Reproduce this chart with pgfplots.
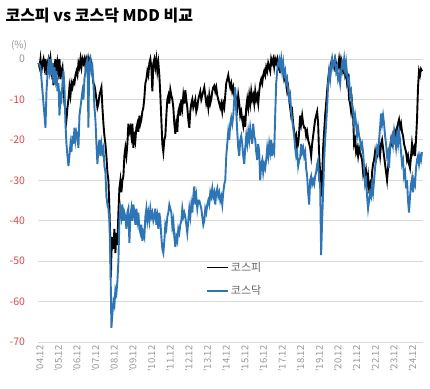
\documentclass[border=0pt]{standalone}
\usepackage{fontspec}
\setmainfont{Noto Sans CJK KR}
\usepackage{pgfplots}
\pgfplotsset{compat=1.18}
\definecolor{kosdaq}{RGB}{46,117,182}
\definecolor{gridc}{RGB}{217,217,217}
\definecolor{tickred}{RGB}{222,72,72}
\definecolor{tickgray}{RGB}{150,150,150}
\definecolor{leggray}{RGB}{100,100,100}
\begin{document}
\begin{tikzpicture}[x=1pt,y=1pt]
\begin{axis}[
  at={(37.5pt,46pt)}, anchor=south west, scale only axis,
  width=385.5pt, height=283pt,
  xmin=37, xmax=423, ymin=-70, ymax=0,
  clip=false,
  axis line style={draw=none},
  major tick length=0pt,
  ymajorgrids, grid style={gridc, line width=0.8pt},
  ytick={-70,-60,-50,-40,-30,-20,-10,0},
  yticklabels={{\color{tickred}-70},{\color{tickred}-60},{\color{tickred}-50},{\color{tickred}-40},{\color{tickred}-30},{\color{tickred}-20},{\color{tickred}-10},{\color{tickgray}0}},
  yticklabel style={anchor=east, xshift=-9pt, font=\fontsize{10.5}{12}\selectfont},
  xtick={37.2,55.67,74.34,93.01,111.68,130.35,149.02,167.69,186.36,205.03,223.7,242.37,261.04,279.71,298.38,317.05,335.72,354.39,373.06,391.73,410.4},
  xticklabels={'04.12,'05.12,'06.12,'07.12,'08.12,'09.12,'10.12,'11.12,'12.12,'13.12,'14.12,'15.12,'16.12,'17.12,'18.12,'19.12,'20.12,'21.12,'22.12,'23.12,'24.12},
  xticklabel style={rotate=90, anchor=east, yshift=-2pt, text=tickgray, font=\fontsize{9.5}{11}\selectfont},
  legend style={at={(0.429,0.297)}, anchor=north west, draw=none, fill=none,
    font=\fontsize{11}{13}\selectfont, text=leggray, row sep=9pt},
  legend cell align=left,
  legend image code/.code={\draw[#1] (0pt,0pt) -- (21pt,0pt);},
]
\addplot[black, line width=1.9pt] coordinates {
(38,-1)(39,-2)(40,0)(41,-3)(42,-1)(43,0)(44,-2)(45,0)(46,-4)(47,-1)(48,0)(49,-2)(50,0)(51,-3)(52,-1)(53,-6.5)(54,-2)(55,0)(56,-4)(57,-1)(58,-3)(59,0)(60,-5)(61,-3)(62,-2)(63,-6)(64,-11)(65,-13)(66,-15)(67,-12)(68,-10)(69,-7)(70,-9)(71,-6)(72,-7)(73,-5.5)(74,-6)(75,-4)(76,-3)(77,-4)(78,-1)(79,-2)(80,0)(81,-2)(82,0)(83,-1)(84,0)(85,-2)(86,0)(87,-1)(88,0)(89,-2)(90,0)(91,-1)(92,-4)(93,-6)(94,-6.5)(95,-8)(96,-10)(97,-12)(98,-11)(99,-9)(100,-8)(101,-7)(102,-12)(103,-16)(104,-19)(105,-21)(106,-24)(107,-28)(108,-30)(109,-37)(110,-46)(110.5,-54)(111,-48)(112,-44)(113,-47)(114,-42)(115,-48)(116,-43)(117,-46)(118,-38)(119,-32)(120,-30)(121,-33)(122,-30)(123,-29)(124,-24)(125,-22)(126,-24)(127,-21)(128,-16)(129,-18)(130,-17)(131,-19)(132,-16)(133,-22)(134,-18)(135,-20)(136,-17)(137,-16)(138,-18)(139,-14)(140,-16)(141,-15)(142,-13)(143,-12)(144,-9.6)(145,-6)(146,-5)(147,-3)(148,-4)(149,-1)(150,0)(151,-2)(152,-8)(153,-1)(154,0)(155,-2)(156,0)(157,-3)(158,-1)(159,-4)(160,-9)(161,-15)(162,-21)(163,-23)(164,-20)(165,-19)(166,-14)(167,-10)(168,-9)(169,-11)(170,-7.6)(171,-9)(172,-10)(173,-12)(174,-16)(175,-18.5)(176,-16)(177,-18)(178,-13)(179,-12)(180,-14)(181,-10)(182,-12)(183,-9)(184,-11)(185,-7.7)(186,-10)(187,-12)(188,-15)(189,-17)(190,-13)(191,-11)(192,-10)(193,-12)(194,-11)(195,-10)(196,-13)(197,-12)(198,-10)(199,-9)(200,-8)(201,-10)(202,-9)(203,-8)(204,-7)(205,-9)(206,-11)(207,-10)(208,-12)(209,-9)(210,-11)(211,-10)(212,-8)(213,-7)(214,-6.6)(215,-8)(216,-7)(217,-9)(218,-10)(219,-11)(220,-12)(221,-11)(222,-13)(223,-11)(224,-12)(225,-9)(226,-6)(227,-5)(228,-4)(229,-5.7)(230,-7)(231,-6)(232,-8)(233,-7)(234,-9)(235,-8.8)(236,-10)(237,-12)(238,-9)(239,-11)(240,-14)(241,-13)(242,-15)(243,-16.5)(244,-14)(245,-16.8)(246,-12)(247,-10)(248,-12)(249,-9)(250,-11)(251,-8)(252,-10)(253,-9)(254,-11)(255,-8)(256,-10)(257,-9)(258,-11)(259,-8)(260,-6)(261,-5)(262,-6)(263,-4)(264,-3)(265,-4)(266,-2)(267,-3)(268,-1)(269,-2)(270,-3)(271,0)(272,-1)(273,0)(274,-2)(275,0)(276,-1)(277,0)(278,-2)(279,-1)(280,-3.5)(281,0)(282,-2)(283,-3)(284,-5)(285,-4)(286,-6)(287,-8)(288,-7)(289,-10)(290,-12)(291,-14)(292,-13)(293,-16)(294,-18)(295,-20)(296,-19)(297,-22)(298,-21)(299,-18)(300,-14)(301,-16)(302,-14)(303,-16)(304,-17)(305,-17)(306,-19)(307,-18)(308,-20)(309,-21)(310,-22)(311,-24)(312,-21)(313,-19)(314,-17)(315,-15)(316,-14)(317,-13)(318,-16)(319,-24)(320,-28)(321,-34)(322,-30)(323,-22)(324,-18)(325,-14)(326,-11)(327,-8)(328,-5)(329,-3)(330,-4)(331,-1)(332,0)(333,-1)(334,-2)(335,0)(336,-1)(337,-3)(338,-2)(339,0)(340,-2)(341,0)(342,-1)(343,-3)(344,-2)(345,-4)(346,-3)(347,-6)(348,-5)(349,-10)(350,-11)(351,-13)(352,-11)(353,-14)(354,-21)(355,-20)(356,-23)(357,-22)(358,-24)(359,-22)(360,-23)(361,-24)(362,-25)(363,-28)(364,-26)(365,-30)(366,-28)(367,-31)(368,-29)(369,-32)(370,-31)(371,-33)(372,-28)(373,-26)(374,-25)(375,-23)(376,-25)(377,-24)(378,-23)(379,-22)(380,-24)(381,-21)(382,-20)(383,-22)(384,-24)(385,-26)(386,-28)(387,-30)(388,-27)(389,-24)(390,-22)(391,-20)(392,-21)(393,-19)(394,-20)(395,-18)(396,-19)(397,-17)(398,-16)(399,-15)(400,-17)(401,-16)(402,-18)(403,-19)(404,-21)(405,-22)(406,-23)(407,-25)(408,-24)(409,-26)(410,-27)(411,-24)(412,-21)(413,-23)(414,-22)(415,-24)(416,-20)(417,-15)(418,-7)(419,-3)(420,-4)(421,-2.5)(422,-3)
};
\addlegendentry{코스피}
\addplot[kosdaq, line width=1.9pt] coordinates {
(38,-1)(40,-2)(42,-8)(43,-11)(45,-17)(46,-8)(47,-4)(48,-1)(49,-3)(50,0)(51,-4)(52,-1)(53,-6)(54,-2)(55,-5)(56,-3)(57,-8)(58,-6)(59,-14)(60,-9)(61,-10)(62,-6)(63,-3)(64,-7)(65,-16)(66,-21)(67,-24)(68,-26.5)(69,-24)(70,-21)(71,-23)(72,-19)(73,-21)(74,-17)(75,-20)(76,-18)(77,-19)(78,-22)(79,-14)(80,-12)(82,-8)(83,-10)(84,-5)(85,-3)(86,-1)(87,0)(88,-17)(88.6,-4)(89,-1)(90,0)(91,-3)(92,-2)(93,-6)(94,-12)(95,-15)(96,-21)(97,-26)(98,-22)(99,-20)(100,-24)(101,-21)(102,-23)(103,-22)(104,-26.5)(105,-28)(106,-34)(107,-36)(108,-37)(109,-40)(110,-50)(110.5,-58)(111,-66.5)(112,-63)(113,-60)(114,-61)(115,-57)(116,-58)(117,-55)(118,-50)(119,-40)(120,-37)(121,-39)(122,-36)(123,-40)(124,-38)(125,-39)(126,-42)(127,-38)(128,-37)(129,-45.5)(130,-39)(131,-37)(132,-40)(133,-36)(134,-38)(135,-41)(136,-37)(137,-40)(138,-38)(139,-42)(140,-43)(141,-41)(142,-45)(143,-43)(144,-44)(145,-39)(146,-37)(147,-40)(148,-38)(149,-40)(150,-37)(151,-39)(152,-38)(153,-40)(154,-39)(155,-37)(156,-41)(157,-39)(158,-42)(159,-38)(160,-40)(161,-44)(162,-47)(163,-48)(164,-45)(165,-41)(166,-42)(167,-39)(168,-38)(169,-36)(170,-37)(171,-38)(172,-41.5)(173,-40)(174,-44)(175,-46.5)(176,-44)(177,-45)(178,-42)(179,-43)(180,-41)(181,-40)(182,-37)(183,-39)(184,-38)(185,-39)(186,-41)(187,-43)(188,-40)(189,-37)(190,-39)(191,-36)(192,-38)(193,-34)(194,-31.5)(195,-36)(196,-34)(197,-37)(198,-35)(199,-35)(200,-36)(201,-37)(202,-39)(203,-41)(204,-40)(205,-37)(206,-38)(207,-36)(208,-35)(209,-36)(210,-33)(211,-34)(212,-32)(213,-34)(214,-33)(215,-36)(216,-33)(217,-32)(218,-34)(219,-33)(220,-35)(221,-34)(222,-36)(223,-33)(224,-31)(225,-30)(226,-24)(227,-21)(228,-18)(229,-20)(230,-16)(231,-14.5)(232,-16)(233,-14)(234,-10)(235,-7)(236,-13)(237,-18)(238,-22)(239,-24)(240,-20)(241,-19)(242,-21)(243,-24)(244,-26)(245,-22)(246,-19)(247,-21)(248,-18)(249,-20)(250,-17)(251,-19)(252,-21)(253,-16)(254,-19)(255,-20)(256,-23)(257,-25)(258,-21)(259,-23)(260,-30)(261,-26)(262,-25)(263,-28)(264,-26)(265,-27)(266,-25)(267,-22)(268,-24)(269,-21)(270,-23)(271,-20)(272,-24)(273,-22)(274,-23)(275,-14)(276,-6)(277,-3)(278,-1)(279,0)(280,-2)(281,0)(282,-3)(283,-1)(284,-4)(285,-3)(286,-6)(287,-5)(288,-8)(289,-10)(290,-9)(291,-13)(292,-15)(293,-17)(294,-19)(295,-22)(296,-24)(297,-23)(298,-26.5)(299,-25)(300,-24.5)(301,-21)(302,-23)(303,-22)(304,-24)(305,-23)(306,-27)(307,-29)(308,-33)(309,-36)(310,-30)(311,-29)(312,-31)(313,-30)(314,-31)(315,-29)(316,-28)(317,-26)(318,-25)(319,-30)(320,-31)(321,-48.5)(322,-40)(323,-33)(324,-25)(325,-20)(326,-16)(327,-12)(328,-6)(329,-3)(330,-5)(331,-2)(332,0)(333,-2)(334,-1)(335,0)(336,-3)(337,-2)(338,-5)(339,-4)(340,-6)(341,-3)(342,-1)(343,-2)(344,0)(345,-3)(346,-1)(347,-4)(348,-6)(349,-5)(350,-9)(351,-8)(352,-11.5)(353,-13)(354,-16)(355,-14)(356,-16)(357,-19)(358,-17)(359,-19)(360,-20)(361,-22)(362,-21)(363,-23)(364,-27)(365,-31)(366,-30)(367,-34)(368,-37)(369,-35)(370,-33)(371,-34)(372,-31)(373,-33)(374,-30)(375,-27)(376,-24.5)(377,-22)(378,-23)(379,-20)(380,-17)(381,-13.5)(382,-16)(383,-14)(384,-16)(385,-19)(386,-21)(387,-24)(388,-23)(389,-27)(390,-22)(391,-20)(392,-19)(393,-21)(394,-18)(395,-20)(396,-22)(397,-19)(398,-21)(399,-18)(400,-20)(401,-23)(402,-26)(403,-25)(404,-29)(405,-28)(406,-32)(407,-30)(408,-35)(409,-38)(410,-34)(411,-31)(412,-29.5)(413,-33)(414,-30)(415,-31)(416,-27)(417,-25)(418,-24)(419,-26)(420,-24)(421,-25)(422,-23)
};
\addlegendentry{코스닥}
\end{axis}
\node[anchor=west, font=\bfseries\fontsize{16}{19}\selectfont] at (2,372) {코스피 vs 코스닥 MDD 비교};
\node[font=\fontsize{10}{12}\selectfont, text=tickgray] at (19,343) {(\%)};
\pgfresetboundingbox
\path[use as bounding box] (0,0) rectangle (430,388);
\end{tikzpicture}
\end{document}
